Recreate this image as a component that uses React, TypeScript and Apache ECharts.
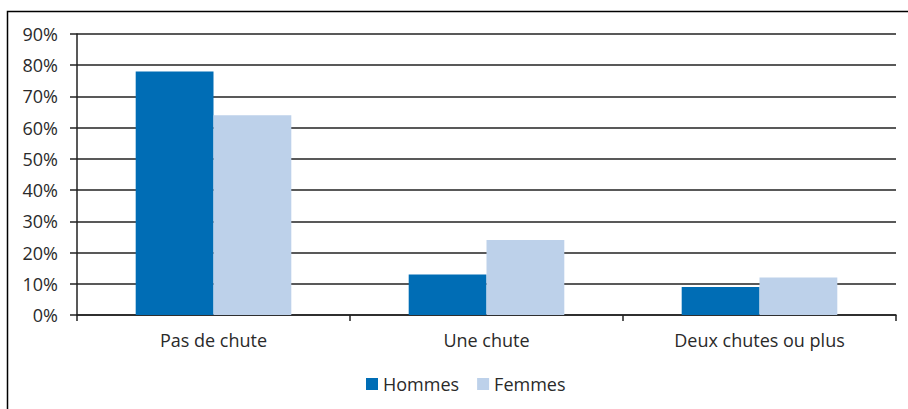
import React, { useEffect, useRef } from "react";
import * as echarts from "echarts";

const categories = ["Pas de chute", "Une chute", "Deux chutes ou plus"];
const hommes = [78, 13, 9];
const femmes = [64, 24, 12];
const yTicks = [0, 10, 20, 30, 40, 50, 60, 70, 80, 90];

export default function App() {
  const ref = useRef<HTMLDivElement>(null);
  useEffect(() => {
    if (!ref.current) return;
    const chart = echarts.init(ref.current, undefined, { renderer: "svg" });
    const font = "'Open Sans', sans-serif";
    const txt = "#2a2a2a";
    chart.setOption({
      animation: false,
      backgroundColor: "#ffffff",
      textStyle: { fontFamily: font },
      graphic: [
        {
          type: "rect",
          shape: { x: 7.5, y: 11.5, width: 920, height: 420 },
          style: { fill: "none", stroke: "#000000", lineWidth: 1.5 },
          silent: true,
        },
      ],
      grid: { left: 77, right: 12, top: 34, bottom: 94 },
      legend: {
        data: ["Hommes", "Femmes"],
        left: 361,
        top: 370,
        icon: "rect",
        itemWidth: 12,
        itemHeight: 12,
        itemGap: 18,
        itemStyle: { borderWidth: 0 },
        textStyle: { fontSize: 18, color: txt, fontFamily: font },
      },
      xAxis: {
        type: "category",
        data: categories,
        axisLine: { show: true, lineStyle: { color: "#222222", width: 1.5 } },
        axisTick: { show: true, length: 6, lineStyle: { color: "#222222", width: 1.5 } },
        axisLabel: { fontSize: 18, color: txt, margin: 16, fontFamily: font },
      },
      yAxis: {
        type: "value",
        min: 0,
        max: 90,
        interval: 10,
        axisLine: { show: true, lineStyle: { color: "#222222", width: 1.5 } },
        axisTick: { show: true, length: 7, lineStyle: { color: "#222222", width: 1.5 } },
        splitLine: { show: true, lineStyle: { color: "#222222", width: 1.5 } },
        axisLabel: {
          fontSize: 18,
          color: txt,
          margin: 19,
          fontFamily: font,
          formatter: (v: number) => (yTicks.includes(v) ? v + "%" : ""),
        },
      },
      series: [
        {
          name: "Hommes",
          type: "bar",
          data: hommes,
          barGap: "0%",
          barCategoryGap: "43%",
          itemStyle: { color: "#006DB5" },
        },
        {
          name: "Femmes",
          type: "bar",
          data: femmes,
          barGap: "0%",
          barCategoryGap: "43%",
          itemStyle: { color: "#BDD1EA" },
        },
      ],
    });
    return () => chart.dispose();
  }, []);
  return (
    <div
      ref={ref}
      style={{ position: "absolute", left: 0, top: 0, width: 908, height: 409 }}
    />
  );
}
